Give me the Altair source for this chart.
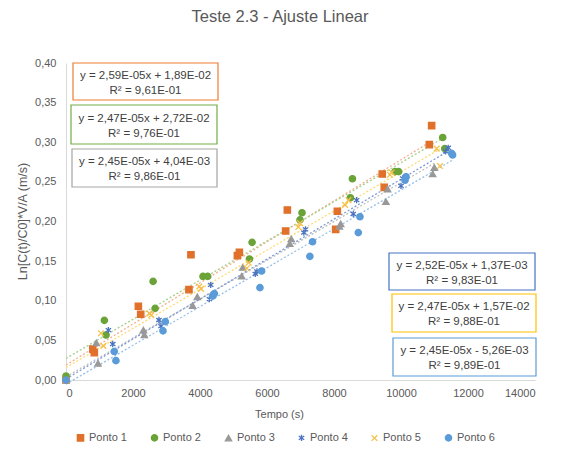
import altair as alt
import pandas as pd

# ---------------- data ----------------
series = ["Ponto 1", "Ponto 2", "Ponto 3", "Ponto 4", "Ponto 5", "Ponto 6"]

p1_x = [0, 800, 845, 2160, 2230, 3670, 3730, 5115, 5175, 6557, 6607, 8050, 8100, 9440, 9500, 10845, 10915]
p1_y = [0.000, 0.039, 0.0345, 0.093, 0.083, 0.114, 0.158, 0.157, 0.161, 0.188, 0.2145, 0.190, 0.213, 0.260, 0.243, 0.297, 0.321]

p2_x = [0, 1145, 1195, 2600, 2660, 4090, 4230, 5475, 5555, 6985, 7045, 8490, 8550, 9820, 9930, 11245, 11305]
p2_y = [0.005, 0.0753, 0.0568, 0.1245, 0.0904, 0.1307, 0.1307, 0.1527, 0.1737, 0.202, 0.211, 0.230, 0.254, 0.263, 0.263, 0.306, 0.292]

p3_x = [0, 905, 955, 2310, 2340, 3780, 3920, 5245, 5275, 6680, 6725, 8160, 8200, 9550, 9600, 10945, 10995]
p3_y = [0.000, 0.047, 0.021, 0.063, 0.057, 0.094, 0.105, 0.131, 0.142, 0.172, 0.178, 0.194, 0.197, 0.225, 0.241, 0.260, 0.268]

p4_x = [0, 1265, 1395, 2775, 2835, 4280, 4320, 5650, 5700, 7100, 7150, 8575, 8675, 10000, 10050, 11335, 11410]
p4_y = [0.000, 0.063, 0.0454, 0.0757, 0.068, 0.102, 0.120, 0.134, 0.137, 0.186, 0.190, 0.2095, 0.227, 0.245, 0.2545, 0.2885, 0.293]

p5_x = [0, 1045, 1115, 2490, 2545, 3980, 4030, 5400, 5450, 6935, 6985, 8330, 8430, 9670, 9720, 11065, 11165]
p5_y = [0.000, 0.059, 0.043, 0.084, 0.082, 0.118, 0.115, 0.141, 0.148, 0.193, 0.198, 0.221, 0.227, 0.259, 0.262, 0.292, 0.270]

p6_x = [0, 1440, 1490, 2895, 2965, 4380, 4430, 5790, 5840, 7280, 7360, 8725, 8775, 10120, 10150, 11510, 11540]
p6_y = [0.000, 0.036, 0.0244, 0.062, 0.0736, 0.106, 0.109, 0.1165, 0.1375, 0.156, 0.1745, 0.186, 0.206, 0.252, 0.2565, 0.286, 0.284]

# trendline equations (as printed in the chart)
slopes = [2.59e-05, 2.47e-05, 2.45e-05, 2.52e-05, 2.47e-05, 2.45e-05]
intercepts = [1.89e-02, 2.72e-02, 4.04e-03, 1.37e-03, 1.57e-02, -5.26e-03]
r2 = [9.61e-01, 9.76e-01, 9.86e-01, 9.83e-01, 9.88e-01, 9.89e-01]

x_ticks = [0, 2000, 4000, 6000, 8000, 10000, 12000, 14000]
y_ticks = [0.00, 0.05, 0.10, 0.15, 0.20, 0.25, 0.30, 0.35, 0.40]

xs = [p1_x, p2_x, p3_x, p4_x, p5_x, p6_x]
ys = [p1_y, p2_y, p3_y, p4_y, p5_y, p6_y]

# ---------------- styles ----------------
marker_colors = ["#E0702A", "#6AA338", "#999999", "#4A72C0", "#F5C04A", "#5A9BD8"]
line_colors = ["#F4B08E", "#A8D18C", "#BDBDBD", "#7C9AD6", "#FFD86E", "#98C0EA"]
box_colors = ["#ED7D31", "#70AD47", "#A5A5A5", "#4472C4", "#FFC000", "#5B9BD5"]
asterisk = "M0,-1L0,1M-0.85,-0.6L0.85,0.6M-0.85,0.6L0.85,-0.6"
xmark = "M-0.9,-0.9L0.9,0.9M-0.9,0.9L0.9,-0.9"
shapes = ["square", "circle", "triangle-up", asterisk, xmark, "circle"]
sizes_for = [40, 40, 64, 80, 80, 40]

# annotation box layout (pixels, relative to plot area)
box_layout = [
    (7, 152, 0, 37),
    (5, 151, 42, 81),
    (6, 151, 86, 124),
    (323, 469, 190, 227),
    (326, 470, 231, 269),
    (327, 470, 275, 313),
]


def sci(v):
    return f"{abs(v):.2E}".replace(".", ",")


def eq_text(m, b):
    sign = "+" if b >= 0 else "-"
    return f"y = {sci(m)}x {sign} {sci(b)}"


# ---------------- tables ----------------
pts = pd.DataFrame(
    [
        {"Serie": s, "x": x, "y": y}
        for s, xx, yy in zip(series, xs, ys)
        for x, y in zip(xx, yy)
    ]
)

lines = pd.DataFrame(
    [
        {"Serie": s, "x": xv, "y": m * xv + b}
        for s, xx, m, b in zip(series, xs, slopes, intercepts)
        for xv in (min(xx), max(xx))
    ]
)

boxes = pd.DataFrame(
    [
        {
            "Serie": s,
            "x0": L[0], "x1": L[1], "y0": L[2], "y1": L[3],
            "xc": (L[0] + L[1]) / 2, "yc": (L[2] + L[3]) / 2,
            "eq": eq_text(m, b),
            "r2": f"R² = {sci(r)}",
        }
        for s, L, m, b, r in zip(series, box_layout, slopes, intercepts, r2)
    ]
)

FONT = "Liberation Sans"
xscale = alt.Scale(domain=[0, 14000], nice=False)
yscale = alt.Scale(domain=[0, 0.40], nice=False)

x_axis = alt.Axis(
    values=x_ticks, format="d", grid=False, ticks=False, labelOverlap=False,
    labelPadding=7, labelFontSize=11, labelColor="#595959", labelFont=FONT,
    domainColor="#D9D9D9", title="Tempo  (s)", titleFont=FONT, titleFontSize=11,
    titleFontWeight="normal", titleColor="#595959", titleX=213, titleY=37,
    titleAlign="center", titleBaseline="alphabetic",
)
y_axis = alt.Axis(
    values=y_ticks, labelOverlap=False,
    labelExpr="replace(format(datum.value, '.2f'), '.', ',')",
    grid=False, ticks=False, labelPadding=10, labelFontSize=11,
    labelColor="#595959", labelFont=FONT, domainColor="#D9D9D9",
    title="Ln[C(t)/C0]*V/A  (m/s)", titleFont=FONT, titleFontSize=12.5,
    titleFontWeight="normal", titleColor="#595959", titleX=-40, titleY=158,
    titleAngle=-90, titleAlign="center", titleBaseline="alphabetic",
)

trend = alt.Chart(lines).mark_line(strokeWidth=1.3, strokeDash=[2, 2]).encode(
    x=alt.X("x:Q", scale=xscale, axis=x_axis),
    y=alt.Y("y:Q", scale=yscale, axis=y_axis),
    detail="Serie:N",
    stroke=alt.Stroke("Serie:N", scale=alt.Scale(domain=series, range=line_colors), legend=None),
)

points = alt.Chart(pts).mark_point(filled=True, opacity=1, strokeWidth=1.3).encode(
    x=alt.X("x:Q", scale=xscale, axis=x_axis),
    y=alt.Y("y:Q", scale=yscale, axis=y_axis),
    color=alt.Color(
        "Serie:N",
        scale=alt.Scale(domain=series, range=marker_colors),
        legend=alt.Legend(
            title=None, orient="none", direction="horizontal", legendX=9, legendY=369,
            labelFont=FONT, labelFontSize=11, labelColor="#595959", labelLimit=80,
            symbolSize=45, symbolStrokeWidth=1.3, labelOffset=3, columnPadding=21,
        ),
    ),
    stroke=alt.Stroke("Serie:N", scale=alt.Scale(domain=series, range=marker_colors), legend=None),
    shape=alt.Shape("Serie:N", scale=alt.Scale(domain=series, range=shapes)),
    size=alt.Size("Serie:N", scale=alt.Scale(domain=series, range=sizes_for), legend=None),
)

rects = alt.Chart(boxes).mark_rect(fill="white", strokeWidth=1.2).encode(
    x=alt.X("x0:Q", scale=None),
    x2="x1:Q",
    y=alt.Y("y0:Q", scale=None),
    y2="y1:Q",
    stroke=alt.Stroke("Serie:N", scale=alt.Scale(domain=series, range=box_colors), legend=None),
)

eq_lbl = alt.Chart(boxes).mark_text(
    font=FONT, fontSize=11.5, color="#404040", baseline="alphabetic", dy=-3
).encode(
    x=alt.X("xc:Q", scale=None),
    y=alt.Y("yc:Q", scale=None),
    text="eq:N",
)
r2_lbl = alt.Chart(boxes).mark_text(
    font=FONT, fontSize=11.5, color="#404040", baseline="alphabetic", dy=12
).encode(
    x=alt.X("xc:Q", scale=None),
    y=alt.Y("yc:Q", scale=None),
    text="r2:N",
)

title = alt.Chart(pd.DataFrame({"t": ["Teste 2.3 - Ajuste Linear"]})).mark_text(
    font=FONT, fontSize=16.5, color="#595959", baseline="alphabetic", align="center"
).encode(x=alt.value(214), y=alt.value(-41), text="t:N")

chart = (
    alt.layer(trend, points, rects, eq_lbl, r2_lbl, title)
    .resolve_scale(stroke="independent", color="independent", shape="independent", size="independent")
    .properties(
        width=469, height=317,
        padding={"left": 58, "top": 55, "right": 20, "bottom": 64},
        autosize=alt.AutoSizeParams(type="none"),
    )
    .configure_view(stroke=None)
)

chart.save("out.html", embed_options={"renderer": "svg", "actions": False})
